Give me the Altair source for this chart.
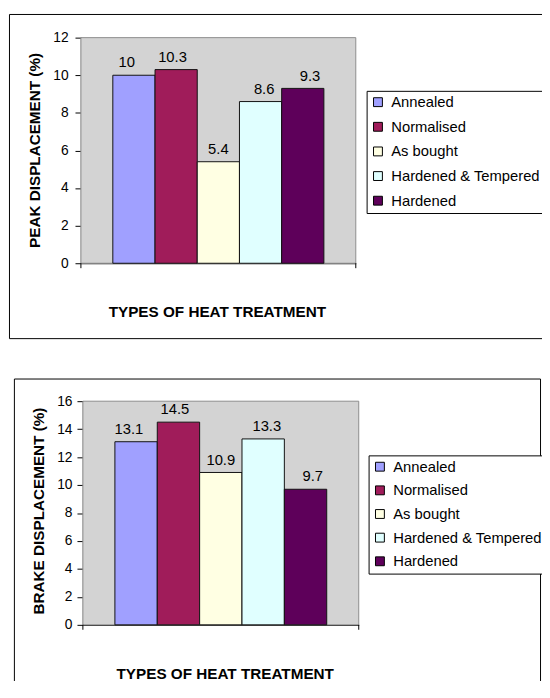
import altair as alt
import pandas as pd

treatments = ["Annealed", "Normalised", "As bought", "Hardened & Tempered", "Hardened"]
peak_values = [10, 10.3, 5.4, 8.6, 9.3]
brake_values = [13.1, 14.5, 10.9, 13.3, 9.7]
colors = ["#A0A0FF", "#A01C5A", "#FFFFE3", "#E0FFFF", "#5E005A"]
peak_ticks = [0, 2, 4, 6, 8, 10, 12]
brake_ticks = [0, 2, 4, 6, 8, 10, 12, 14, 16]

FONT = "Liberation Sans"
W, H = 542, 678
PAD_OUT = 0.756


def rule(x, x2, y, y2, color="#000000"):
    return alt.Chart(alt.Data(values=[{}])).mark_rule(color=color, strokeWidth=1).encode(
        x=alt.value(x), x2=alt.value(x2), y=alt.value(y), y2=alt.value(y2))


def chart_layers(values, ytitle, ymax, yticks, plot, legend_xy, row_pad,
                 xtitle_xy, ytitle_xy, label_pad):
    x0, x1, ytop, ybot = plot
    df = pd.DataFrame({"t": treatments, "v": values,
                       "lbl": [("%g" % v) for v in values]})
    xscale = alt.Scale(domain=treatments, range=[x0, x1], paddingInner=0, paddingOuter=PAD_OUT)
    # point scale for the text layer, placed on the band centres
    xscale_pt = alt.Scale(type="point", domain=treatments, range=[x0, x1],
                          padding=PAD_OUT + 0.5)
    yscale = alt.Scale(domain=[0, ymax], range=[ybot, ytop], nice=False, zero=True)

    bg = alt.Chart(alt.Data(values=[{}])).mark_rect(
        fill="#D3D3D3", stroke="#8C8C8C", strokeWidth=1).encode(
        x=alt.value(x0), x2=alt.value(x1), y=alt.value(ytop), y2=alt.value(ybot))

    bars = alt.Chart(df).mark_bar(stroke="#111111", strokeWidth=1, opacity=1).encode(
        x=alt.X("t:N", scale=xscale, sort=treatments,
                axis=alt.Axis(title="TYPES OF HEAT TREATMENT", labels=False, ticks=False,
                              domain=True, domainColor="#000000", domainWidth=1,
                              offset=ybot - H, orient="bottom", grid=False,
                              titleFont=FONT, titleFontSize=15.5, titleFontWeight="bold",
                              titleColor="#000000", titleX=xtitle_xy[0], titleY=xtitle_xy[1],
                              titleAlign="center", titleBaseline="middle")),
        y=alt.Y("v:Q", scale=yscale,
                axis=alt.Axis(title=ytitle, values=yticks, orient="left", offset=-x0,
                              grid=False, domainColor="#000000", domainWidth=1,
                              tickColor="#000000", tickSize=6, labelPadding=label_pad,
                              labelOverlap=False,
                              labelFont=FONT, labelFontSize=14, labelColor="#000000",
                              titleFont=FONT, titleFontSize=15.5, titleFontWeight="bold",
                              titleColor="#000000", titleAngle=270,
                              titleX=ytitle_xy[0], titleY=ytitle_xy[1],
                              titleAlign="center", titleBaseline="middle")),
        color=alt.Color("t:N", scale=alt.Scale(domain=treatments, range=colors),
                        legend=alt.Legend(title=None, orient="none",
                                          legendX=legend_xy[0], legendY=legend_xy[1],
                                          strokeColor="#000000", fillColor="white",
                                          padding=4, rowPadding=row_pad, symbolType="square",
                                          symbolSize=81, symbolStrokeColor="#000000",
                                          symbolStrokeWidth=1, symbolOpacity=1,
                                          labelFont=FONT, labelFontSize=15,
                                          labelColor="#000000", labelLimit=300,
                                          labelOffset=6)),
    )
    labels = alt.Chart(df).mark_text(font=FONT, fontSize=15, color="#000000",
                                     baseline="alphabetic", dy=-8).encode(
        x=alt.X("t:N", scale=xscale_pt, sort=treatments, axis=None),
        y=alt.Y("v:Q", scale=yscale, axis=None),
        text="lbl:N",
    )
    end_ticks = [rule(x0, x0, ybot, ybot + 5), rule(x1, x1, ybot, ybot + 5)]
    return [bg, *end_ticks, bars, labels]


frames = [
    rule(1.5, 1.5, 1.5, 330.5), rule(1.5, 542, 1.5, 1.5), rule(1.5, 542, 330.5, 330.5),
    rule(6.5, 6.5, 371.5, H), rule(6.5, 540.5, 371.5, 371.5), rule(540.5, 540.5, 371.5, H),
]

top = chart_layers(peak_values, "PEAK DISPLACEMENT (%)", 12, peak_ticks,
                   plot=(74, 353, 25, 254), legend_xy=(364, 79), row_pad=9,
                   xtitle_xy=(212, 49.5), ytitle_xy=(-47.5, 139), label_pad=7)
bottom = chart_layers(brake_values, "BRAKE DISPLACEMENT (%)", 16, brake_ticks,
                      plot=(76, 356, 394, 621), legend_xy=(366, 449), row_pad=8,
                      xtitle_xy=(220, 49), ytitle_xy=(-45, 505), label_pad=5)

chart = alt.layer(*frames, *top, *bottom).resolve_scale(
    x="independent", y="independent", color="independent"
).resolve_legend(color="independent").resolve_axis(x="independent", y="independent").properties(
    width=W, height=H, padding=0, autosize=alt.AutoSizeParams(type="none")
).configure_view(stroke=None)

chart.save("out.html", embed_options={"renderer": "svg", "actions": False})
